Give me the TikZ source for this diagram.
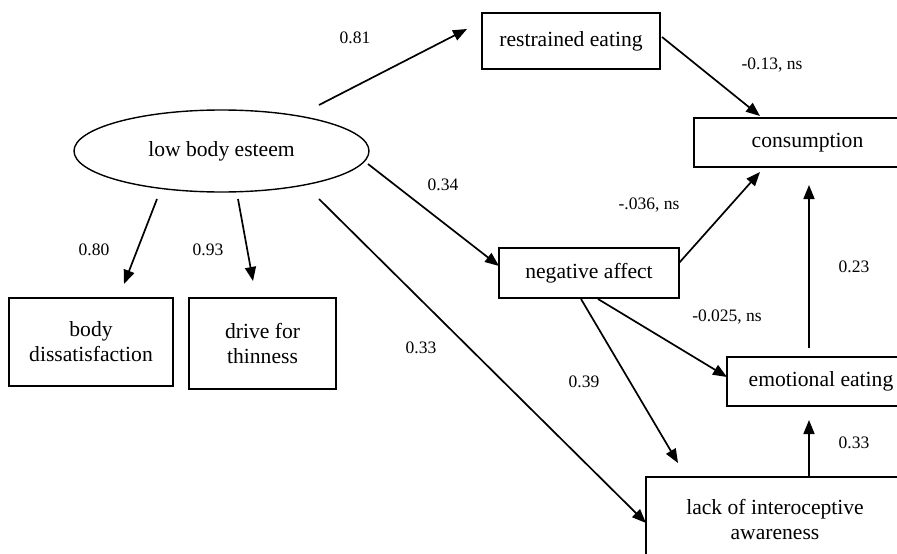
\documentclass[tikz,border=0pt]{standalone}
\usepackage{fontspec}
\setmainfont{Liberation Serif}
\usetikzlibrary{arrows.meta,shapes.geometric}
\begin{document}
\begin{tikzpicture}[x=1pt,y=-1pt,
  box/.style={draw,line width=1.4pt,rectangle,inner sep=0pt,align=center,font=\fontsize{21.6}{25}\selectfont},
  lat/.style={draw,line width=1.4pt,ellipse,inner sep=0pt,font=\fontsize{21.6}{25}\selectfont},
  lbl/.style={inner sep=0pt,font=\fontsize{17.5}{20}\selectfont},
  arr/.style={line width=1.7pt,-{Triangle[length=14pt,width=11pt]}}]
\useasboundingbox (0,0) rectangle (897,554);
\node[lat,minimum width=295pt,minimum height=82pt] (e) at (221.5,151) {low body esteem};
\node[box,minimum width=178pt,minimum height=56pt] (re) at (571,41) {restrained eating};
\node[box,minimum width=227pt,minimum height=49pt] (co) at (807.5,142.5) {consumption};
\node[box,minimum width=180pt,minimum height=50pt] (na) at (589,273) {negative affect};
\node[box,minimum width=188pt,minimum height=49pt] (ee) at (821,381.5) {emotional eating};
\node[box,minimum width=258pt,minimum height=84pt] (la) at (775,519) {lack of interoceptive\\awareness};
\node[box,minimum width=164pt,minimum height=88pt] (bd) at (91,342) {body\\dissatisfaction};
\node[box,minimum width=147pt,minimum height=91pt] (dt) at (262.5,343.5) {drive for\\thinness};
% connector end points
\coordinate (e1) at (319,105);   \coordinate (re1) at (467,29);
\coordinate (re2) at (662,37);   \coordinate (co1) at (760,116);
\coordinate (e2) at (368,164);   \coordinate (na1) at (499,266);
\coordinate (na2) at (679,263);  \coordinate (co2) at (760,172);
\coordinate (ee1) at (809,348);  \coordinate (co3) at (809,185);
\coordinate (la1) at (809,477);  \coordinate (ee2) at (809,420);
\coordinate (na3) at (598,299);  \coordinate (ee3) at (727,377);
\coordinate (na4) at (581,299);  \coordinate (la2) at (678,463);
\coordinate (e3) at (319,199);   \coordinate (la3) at (646,523);
\coordinate (e4) at (157,199);   \coordinate (bd1) at (124,284);
\coordinate (e5) at (238,199);   \coordinate (dt1) at (253,281);
\draw[arr] (e1) -- (re1);
\draw[arr] (re2) -- (co1);
\draw[arr] (e2) -- (na1);
\draw[arr] (na2) -- (co2);
\draw[arr] (ee1) -- (co3);
\draw[arr] (la1) -- (ee2);
\draw[arr] (na3) -- (ee3);
\draw[arr] (na4) -- (la2);
\draw[arr] (e3) -- (la3);
\draw[arr] (e4) -- (bd1);
\draw[arr] (e5) -- (dt1);
% labels
\node[lbl] (l1) at (355,38) {0.81};
\node[lbl] (l2) at (443,185) {0.34};
\node[lbl] (l3) at (772,65) {-0.13, ns};
\node[lbl] (l4) at (649,205) {-.036, ns};
\node[lbl] (l5) at (854,267) {0.23};
\node[lbl] (l6) at (727,317) {-0.025, ns};
\node[lbl] (l7) at (584,382) {0.39};
\node[lbl] (l8) at (854,443) {0.33};
\node[lbl] (l9) at (421,348) {0.33};
\node[lbl] (l10) at (94,250) {0.80};
\node[lbl] (l11) at (208,250) {0.93};
\end{tikzpicture}
\end{document}
